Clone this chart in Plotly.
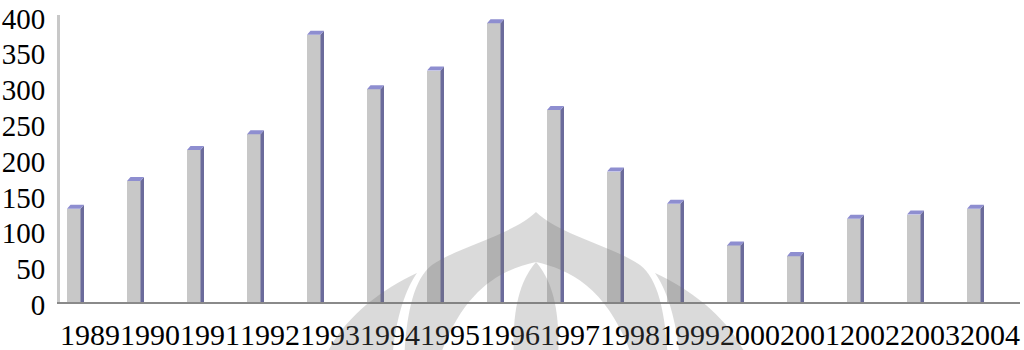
import plotly.graph_objects as go

years = ["1989", "1990", "1991", "1992", "1993", "1994", "1995", "1996",
         "1997", "1998", "1999", "2000", "2001", "2002", "2003", "2004"]
values = [130, 169, 212, 234, 373, 297, 323, 389, 268, 182, 137, 79, 64, 116, 122, 130]
y_ticks = [0, 50, 100, 150, 200, 250, 300, 350, 400]

FRONT = "#C8C8C8"
SIDE = "#6B6B9B"
TOP = "#8E8ED0"

idx = list(range(len(years)))
OFF = -0.383      # front face left offset (category units)
W = 0.225         # front face width
DX = 0.058        # depth offset x (category units)
DY = 5.6          # depth offset y (value units)

fig = go.Figure()
fig.add_trace(go.Bar(x=idx, y=values, base=0, offset=OFF, width=W,
                     marker=dict(color=FRONT, line=dict(width=0)),
                     showlegend=False, hoverinfo="skip"))

sx, sy, tx, ty = [], [], [], []
for i, v in zip(idx, values):
    xl = i + OFF
    x0 = xl + W
    x1 = x0 + DX
    sx += [x0, x1, x1, x0, x0, None]
    sy += [0, 0, v + DY, v, 0, None]
    tx += [xl, x0, x1, xl + DX, xl, None]
    ty += [v, v, v + DY, v + DY, v, None]

fig.add_trace(go.Scatter(x=sx, y=sy, fill="toself", fillcolor=SIDE, mode="lines",
                         line=dict(width=0), showlegend=False, hoverinfo="skip"))
fig.add_trace(go.Scatter(x=tx, y=ty, fill="toself", fillcolor=TOP, mode="lines",
                         line=dict(width=0), showlegend=False, hoverinfo="skip"))

# faint watermark (decorative), defined in pixel space and mapped to paper space
L, R, T, B = 60, 1020, 15, 302
def P(px, py):
    return f"{(px - L) / (R - L):.5f},{(B - py) / (B - T):.5f}"

def path(cmds):
    out = []
    for c in cmds:
        if isinstance(c, str):
            out.append(c)
        else:
            out.append(P(*c))
    return " ".join(out)

dome = path(["M", (536, 212), "C", (560, 235), (610, 245), (640, 265),
             "C", (660, 280), (666, 320), (668, 362), "L", (404, 362),
             "C", (406, 320), (412, 280), (432, 265),
             "C", (462, 245), (512, 235), (536, 212), "Z",
             "M", (536, 262), "C", (500, 270), (462, 290), (438, 362),
             "L", (634, 362), "C", (610, 290), (572, 270), (536, 262), "Z"])
flame = path(["M", (536, 262), "C", (556, 285), (560, 320), (558, 362),
              "L", (514, 362), "C", (512, 320), (516, 285), (536, 262), "Z"])
lwing = path(["M", (417, 273), "C", (380, 290), (340, 320), (323, 362),
              "L", (392, 362), "C", (395, 320), (405, 290), (417, 273), "Z"])
rwing = path(["M", (655, 273), "C", (692, 290), (732, 320), (749, 362),
              "L", (680, 362), "C", (677, 320), (667, 290), (655, 273), "Z"])
shapes = [dict(type="path", path=p, xref="paper", yref="paper",
               fillcolor="#6f6f6f", opacity=0.26, line=dict(width=0), layer="above")
          for p in (dome, flame, lwing, rwing)]

fig.update_layout(
    width=1024, height=350,
    margin=dict(l=60, r=4, t=15, b=48),
    paper_bgcolor="white", plot_bgcolor="white",
    font=dict(family="Liberation Serif", size=30, color="black"),
    shapes=shapes,
    xaxis=dict(range=[-0.5, 15.5], tickmode="array", tickvals=idx, ticktext=years,
               showgrid=False, zeroline=False, showline=True, linecolor="#8A8A8A",
               linewidth=2, ticks="", ticklabelstandoff=5, tickangle=0,
               ticklabeloverflow="allow",
               automargin=False, tickfont=dict(family="Liberation Serif", size=30)),
    yaxis=dict(range=[0, 400.5], tickmode="array", tickvals=y_ticks,
               showgrid=False, zeroline=False, showline=True, linecolor="#C8C8C8",
               linewidth=3, ticks="", ticklabelstandoff=6, ticklabelshift=3,
               ticklabeloverflow="allow",
               automargin=False, tickfont=dict(family="Liberation Serif", size=29)),
    bargap=0,
)

fig.write_html("out.html", config={"displayModeBar": False},
               post_script="document.body.style.margin='0';document.body.style.overflow='hidden';")
